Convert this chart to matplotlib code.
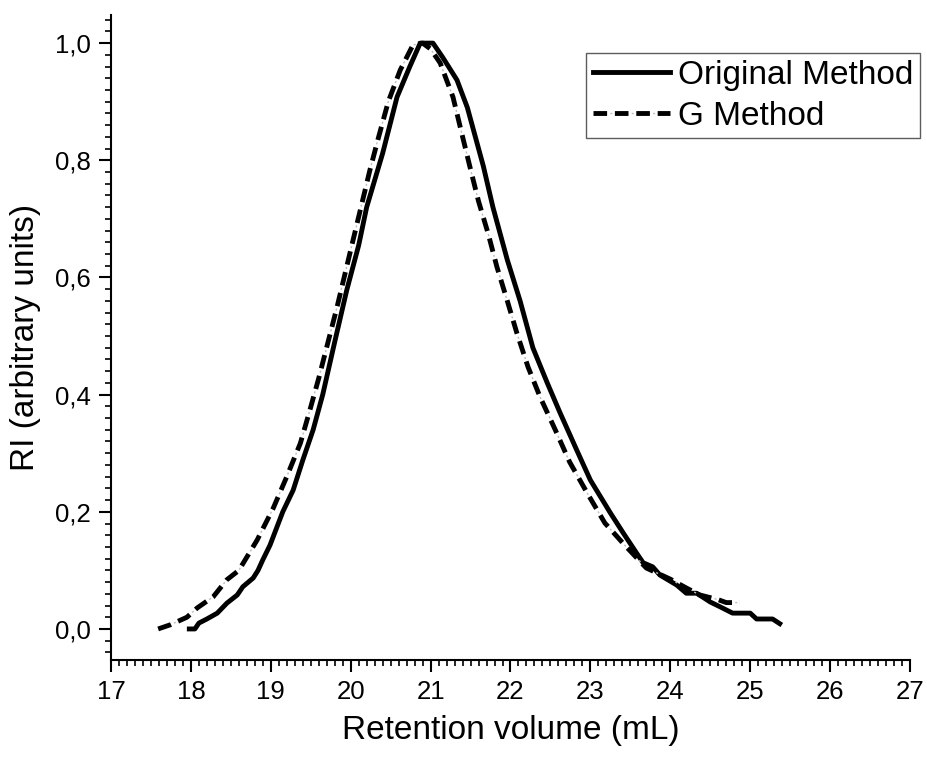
import matplotlib
matplotlib.use("Agg")
import matplotlib.pyplot as plt
from matplotlib.ticker import MultipleLocator, FuncFormatter

plt.rcParams["font.family"] = ["Liberation Sans", "DejaVu Sans"]

# Original Method (solid)
orig_x = [17.98, 18.05, 18.10, 18.20, 18.33, 18.45, 18.58, 18.65, 18.78, 18.84,
          18.90, 18.99, 19.15, 19.28, 19.40, 19.53, 19.65, 19.80, 19.95, 20.10,
          20.20, 20.40, 20.58, 20.74, 20.87, 21.03, 21.15, 21.33, 21.46, 21.58,
          21.66, 21.78, 21.96, 22.12, 22.28, 22.46, 22.62, 22.83, 23.00, 23.25,
          23.41, 23.60, 23.66, 23.78, 23.87, 24.08, 24.20, 24.33, 24.50, 24.62,
          24.78, 25.00, 25.08, 25.28, 25.37]
orig_y = [0.000, 0.000, 0.010, 0.017, 0.027, 0.044, 0.058, 0.072, 0.087, 0.100,
          0.118, 0.143, 0.200, 0.237, 0.288, 0.340, 0.400, 0.490, 0.578, 0.655,
          0.720, 0.812, 0.908, 0.960, 1.000, 1.000, 0.976, 0.937, 0.890, 0.830,
          0.790, 0.720, 0.630, 0.560, 0.480, 0.420, 0.369, 0.305, 0.254, 0.198,
          0.164, 0.125, 0.113, 0.106, 0.092, 0.075, 0.061, 0.061, 0.046, 0.038,
          0.027, 0.027, 0.017, 0.017, 0.009]

# G Method (dashed)
g_x = [17.59, 17.74, 17.95, 18.08, 18.28, 18.45, 18.60, 18.83, 19.03, 19.20,
       19.37, 19.49, 19.60, 19.83, 20.03, 20.24, 20.34, 20.47, 20.62, 20.78,
       20.90, 21.00, 21.12, 21.28, 21.39, 21.49, 21.60, 21.72, 21.83, 21.96,
       22.08, 22.22, 22.37, 22.56, 22.74, 22.96, 23.18, 23.43, 23.70, 24.00,
       24.20, 24.37, 24.60, 24.70, 24.87]
g_y = [0.000, 0.007, 0.020, 0.036, 0.055, 0.084, 0.100, 0.152, 0.206, 0.260,
       0.317, 0.374, 0.428, 0.550, 0.664, 0.783, 0.835, 0.900, 0.954, 0.997,
       1.000, 0.990, 0.966, 0.908, 0.846, 0.790, 0.730, 0.675, 0.618, 0.560,
       0.505, 0.447, 0.396, 0.340, 0.285, 0.232, 0.181, 0.143, 0.104, 0.085,
       0.070, 0.058, 0.050, 0.045, 0.045]

fig = plt.figure(figsize=(9.28, 7.58), dpi=100)
ax = fig.add_axes([111 / 928, 1 - 660 / 758, (910 - 111) / 928, (660 - 15) / 758])

line_o, = ax.plot(orig_x, orig_y, color="black", lw=3.5, solid_joinstyle="round")
# thin grey "dot" of the dash-dot pattern, sitting in the gaps of the black dashes
line_gg, = ax.plot(g_x, g_y, color="#bdbdbd", lw=1.0, linestyle=(3.3, (1.5, 13.9)))
line_g, = ax.plot(g_x, g_y, color="black", lw=3.5, linestyle=(0, (2.8, 1.6)))

ax.set_xlim(17, 27)
ax.set_ylim(-0.053, 1.048)

for s in ("top", "right"):
    ax.spines[s].set_visible(False)
for s in ("left", "bottom"):
    ax.spines[s].set_linewidth(1.5)

ax.xaxis.set_major_locator(MultipleLocator(1))
ax.xaxis.set_minor_locator(MultipleLocator(0.1))
ax.yaxis.set_major_locator(MultipleLocator(0.2))
ax.yaxis.set_minor_locator(MultipleLocator(0.02))
ax.yaxis.set_major_formatter(FuncFormatter(lambda v, p: f"{v:.1f}".replace(".", ",")))
ax.tick_params(which="major", direction="out", length=8.5, width=1.5, labelsize=18.5, pad=6)
ax.tick_params(which="minor", direction="out", length=4, width=1.2)

ax.set_xlabel("Retention volume (mL)", fontsize=24, labelpad=8)
ax.set_ylabel("RI (arbitrary units)", fontsize=24, labelpad=10)

leg = fig.legend([line_o, (line_gg, line_g)], ["Original Method", "G Method"],
                 loc="upper right", bbox_to_anchor=(920 / 928, 1 - 53 / 758),
                 bbox_transform=fig.transFigure, fontsize=24, frameon=True,
                 fancybox=False, borderpad=0.2, borderaxespad=0, labelspacing=0.3,
                 handlelength=2.3, handletextpad=0.25)
leg.get_frame().set_edgecolor("#333333")
leg.get_frame().set_linewidth(1.0)

fig.savefig("out.png", dpi=100)
